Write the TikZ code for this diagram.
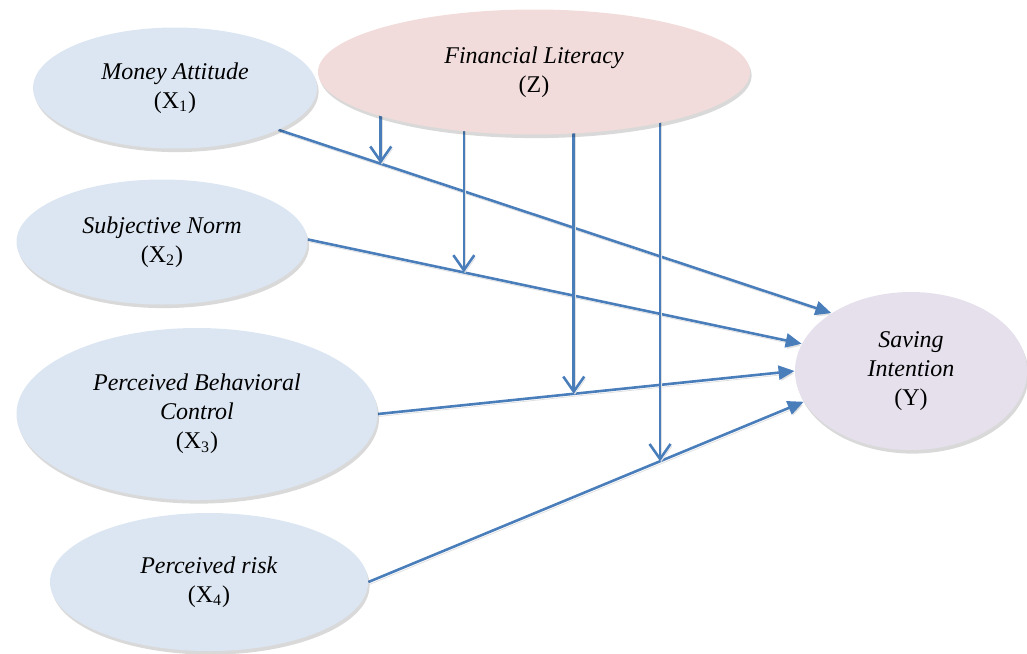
\documentclass[tikz,border=0pt]{standalone}
\usepackage{fontspec}
\setmainfont{Liberation Serif}
\usetikzlibrary{shadows, arrows.meta, shapes, backgrounds, calc}

\definecolor{varblue}{RGB}{220,230,242}
\definecolor{modpink}{RGB}{242,220,219}
\definecolor{outlilac}{RGB}{229,224,236}
\definecolor{linkblue}{RGB}{74,126,187}

\begin{document}
\begin{tikzpicture}[x=0.5pt, y=-0.5pt,
    construct/.style={ellipse, fill=#1, inner sep=0pt, align=center, font=\fontsize{12}{14.5}\selectfont,
      drop shadow={shadow xshift=0.8pt, shadow yshift=-1.8pt, fill=black, opacity=0.15}},
    effect/.style={linkblue, line width=1.3pt, -{Triangle[length=8pt,width=7pt]},
      preaction={draw=black!12, transform canvas={shift={(0.6pt,-1.2pt)}}}},
    moder/.style={linkblue, line width=1.3pt, -{Straight Barb[length=7.5pt,width=10.5pt]},
      preaction={draw=black!12, transform canvas={shift={(0.6pt,-1.2pt)}}}}]
    \useasboundingbox (0,0) rectangle (1027,653);

    \node[construct=varblue, minimum width=142pt, minimum height=60.5pt] (MA) at (175,88) {\textit{Money Attitude}\\(X\textsubscript{1})};
    \node[construct=modpink, minimum width=216pt, minimum height=62.5pt] (FL) at (534,72) {\textit{Financial Literacy}\\(Z)};
    \node[construct=varblue, minimum width=145.5pt, minimum height=62.5pt] (SN) at (162,242) {\textit{Subjective Norm}\\(X\textsubscript{2})};
    \node[construct=varblue, minimum width=180.5pt, minimum height=86pt] (PBC) at (197,414) {\textit{Perceived Behavioral}\\\textit{Control}\\(X\textsubscript{3})};
    \node[construct=varblue, minimum width=159pt, minimum height=69pt] (PR) at (209,582) {\textit{Perceived risk}\\(X\textsubscript{4})};
    \node[construct=outlilac, minimum width=116pt, minimum height=79pt] (SI) at (911,371) {\textit{Saving}\\\textit{Intention}\\(Y)};

    \begin{pgfonlayer}{background}
    % direct effects
    \draw[effect] (MA.-22) -- (SI.144) coordinate[pos=0.185] (m1);
    \draw[effect] (SN.1) -- (SI.166) coordinate[pos=0.316] (m2);
    \draw[effect] (PBC.east) -- (SI.180) coordinate[pos=0.47] (m3);
    \draw[effect] (PR.east) -- (SI.196) coordinate[pos=0.67] (m4);

    % moderation by Z
    \draw[moder] (m1 |- FL.center) -- (m1);
    \draw[moder] (m2 |- FL.center) -- (m2);
    \draw[moder] (m3 |- FL.center) -- (m3);
    \draw[moder] (m4 |- FL.center) -- (m4);
    \end{pgfonlayer}
\end{tikzpicture}
\end{document}
